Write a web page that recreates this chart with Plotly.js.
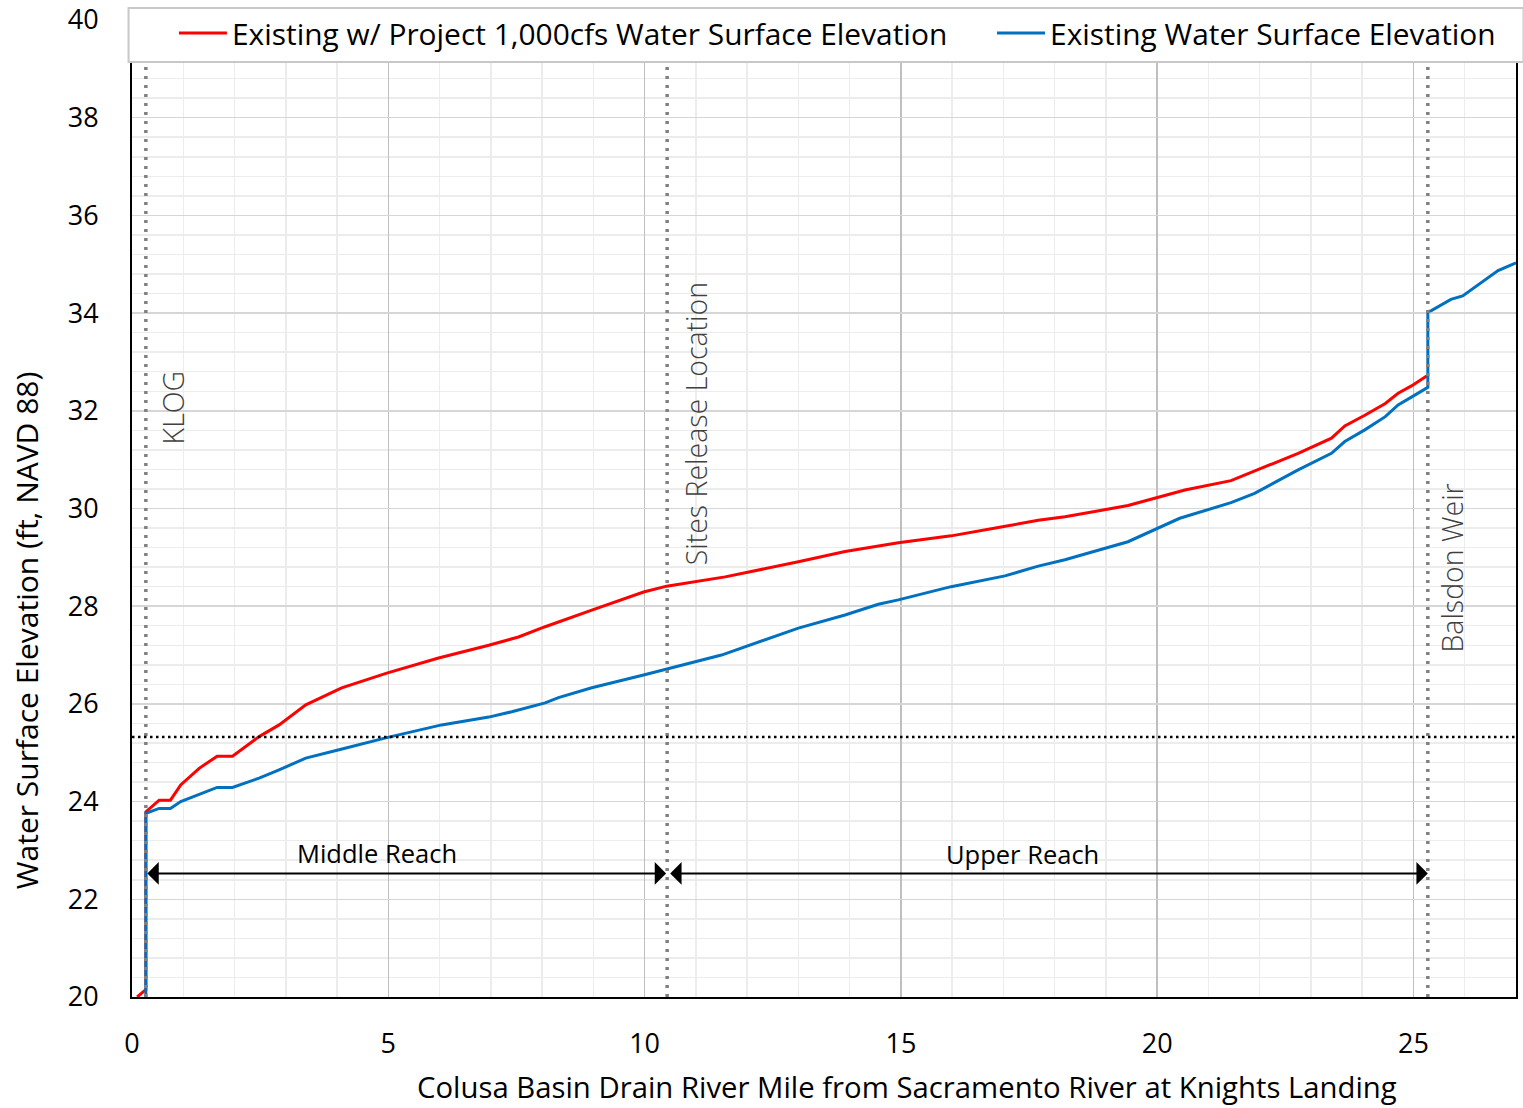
<!DOCTYPE html>
<html>
<head>
<meta charset="utf-8">
<script src="https://cdn.plot.ly/plotly-3.0.1.min.js"></script>
<style>html,body{margin:0;padding:0;background:#fff;}#chart{width:1523px;height:1108px;}</style>
</head>
<body>
<div id="chart"></div>
<script>
// ---- Data ----
const seriesNames = ["Existing w/ Project 1,000cfs Water Surface Elevation", "Existing Water Surface Elevation"];

const projectMile = [0.10, 0.27, 0.27, 0.53, 0.75, 0.95, 1.31, 1.66, 1.96, 2.48, 2.87, 3.39, 4.09, 4.97, 5.98, 6.96, 7.54, 8.06, 8.97, 9.98, 10.43, 10.66, 11.57, 13.0, 13.91, 14.95, 15.98, 16.9, 17.68, 18.2, 19.43, 19.95, 20.54, 21.44, 22.1, 22.75, 23.4, 23.66, 24.05, 24.45, 24.7, 24.96, 25.28];
const projectWSE  = [20.0, 20.15, 23.79, 24.03, 24.03, 24.34, 24.68, 24.93, 24.93, 25.33, 25.57, 25.98, 26.33, 26.63, 26.94, 27.2, 27.37, 27.58, 27.92, 28.29, 28.41, 28.45, 28.6, 28.91, 29.12, 29.3, 29.44, 29.61, 29.76, 29.83, 30.06, 30.21, 30.38, 30.57, 30.86, 31.13, 31.44, 31.69, 31.91, 32.15, 32.36, 32.51, 32.73];

const existingMile = [0.27, 0.27, 0.53, 0.75, 0.95, 1.31, 1.66, 1.96, 2.48, 2.87, 3.39, 4.04, 4.97, 6.04, 6.96, 7.41, 8.06, 8.32, 8.97, 9.98, 10.43, 11.5, 13.0, 13.91, 14.56, 14.95, 15.98, 17.03, 17.68, 18.2, 19.43, 19.95, 20.44, 21.44, 21.9, 22.75, 23.4, 23.66, 24.05, 24.45, 24.7, 24.96, 25.28, 25.28, 25.35, 25.73, 25.96, 26.65, 26.97, 27.0];
const existingWSE  = [20.0, 23.76, 23.86, 23.86, 24.0, 24.15, 24.29, 24.29, 24.48, 24.65, 24.89, 25.06, 25.31, 25.57, 25.73, 25.84, 26.02, 26.13, 26.33, 26.59, 26.71, 27.0, 27.55, 27.82, 28.04, 28.13, 28.4, 28.62, 28.82, 28.95, 29.32, 29.56, 29.8, 30.12, 30.31, 30.79, 31.13, 31.37, 31.61, 31.88, 32.12, 32.28, 32.48, 34.03, 34.05, 34.28, 34.35, 34.87, 35.02, 35.03];

// Reference locations (river mile) and labels
const markerNames = ["KLOG", "Sites Release Location", "Balsdon Weir"];
const markerMiles = [0.27, 10.44, 25.28];
const referenceWSE = 25.32;           // horizontal dotted line
const reachNames = ["Middle Reach", "Upper Reach"];
const reachStart = [0.27, 10.47];
const reachEnd   = [10.42, 25.28];
const reachArrowY = 22.53;

const xTitle = "Colusa Basin Drain River Mile from Sacramento River at Knights Landing";
const yTitle = "Water Surface Elevation (ft, NAVD 88)";

const FONT = "'Open Sans', 'DejaVu Sans', sans-serif";

const traces = [
  {x: projectMile, y: projectWSE, name: seriesNames[0], type: 'scatter', mode: 'lines',
   line: {color: '#ff0000', width: 3}, legend: 'legend'},
  {x: existingMile, y: existingWSE, name: seriesNames[1], type: 'scatter', mode: 'lines',
   line: {color: '#0070c0', width: 3}, legend: 'legend2'}
];

const shapes = [];
markerMiles.forEach(m => shapes.push({type: 'line', xref: 'x', yref: 'y', x0: m, x1: m, y0: 20, y1: 40,
  line: {color: '#808080', width: 3.5, dash: '3px,6px'}, layer: 'above'}));
shapes.push({type: 'line', xref: 'paper', yref: 'y', x0: 0, x1: 1, y0: referenceWSE, y1: referenceWSE,
  line: {color: '#000000', width: 2.5, dash: '2.5px,3.5px'}, layer: 'above'});
// legend box
shapes.push({type: 'rect', xref: 'paper', yref: 'paper', x0: -0.0025, x1: 1.0054, y0: 0.957, y1: 1.0123,
  fillcolor: '#ffffff', line: {color: '#c8c8c8', width: 2}, layer: 'above'});

const annotations = [];
const markerLabelPos = [[0.80, 32.07], [11.01, 31.73], [25.76, 28.78]];
markerNames.forEach((n, i) => annotations.push({x: markerLabelPos[i][0], y: markerLabelPos[i][1], xref: 'x', yref: 'y',
  text: n, showarrow: false, textangle: -90, font: {family: FONT, size: 28.5, color: '#404040', weight: 300}}));
reachNames.forEach((n, i) => {
  annotations.push({x: reachEnd[i], y: reachArrowY, ax: reachStart[i], ay: reachArrowY,
    xref: 'x', yref: 'y', axref: 'x', ayref: 'y', text: '', showarrow: true,
    arrowhead: 1, startarrowhead: 1, arrowside: 'end+start', arrowsize: 1.9, startarrowsize: 1.9,
    arrowwidth: 2, arrowcolor: '#000000', standoff: 0, startstandoff: 0});
});
const reachLabelPos = [[4.77, 22.95], [17.37, 22.93]];
reachNames.forEach((n, i) => annotations.push({x: reachLabelPos[i][0], y: reachLabelPos[i][1], xref: 'x', yref: 'y',
  text: n, showarrow: false, font: {family: FONT, size: 25.5, color: '#000000'}}));
// axis titles (placed off-centre as in the reference)
annotations.push({x: 0.56, y: -0.0921, xref: 'paper', yref: 'paper', xanchor: 'center', yanchor: 'middle',
  text: xTitle, showarrow: false, borderpad: 0, font: {family: FONT, size: 29.3, color: '#000000'}});
annotations.push({x: -0.0765, y: 0.3746, xref: 'paper', yref: 'paper', xanchor: 'center', yanchor: 'middle',
  text: yTitle, showarrow: false, borderpad: 0, textangle: -90, font: {family: FONT, size: 30, color: '#000000'}});

const legendCommon = {orientation: 'h', xanchor: 'left', y: 1.0133, yanchor: 'top',
  bgcolor: 'rgba(0,0,0,0)', borderwidth: 0, font: {family: FONT, size: 29.9, color: '#000000'},
  itemwidth: 48};

const layout = {
  width: 1523, height: 1108,
  margin: {l: 132, r: 7, t: 20, b: 111, pad: 0},
  paper_bgcolor: '#ffffff', plot_bgcolor: '#ffffff',
  font: {family: FONT, color: '#000000'},
  showlegend: true,
  legend: Object.assign({}, legendCommon, {x: 0.0303}),
  legend2: Object.assign({}, legendCommon, {x: 0.6214}),
  xaxis: {range: [0, 27], dtick: 5, tick0: 0, showgrid: true, gridcolor: '#bfbfbf', gridwidth: 1.5,
    minor: {dtick: 1, showgrid: true, gridcolor: '#ececec', gridwidth: 1.5},
    showline: true, linecolor: '#000000', linewidth: 2, mirror: true, zeroline: false,
    ticks: '', ticklabelstandoff: 22, tickfont: {family: FONT, size: 27, color: '#000000'}},
  yaxis: {range: [20, 40], dtick: 2, tick0: 20, showgrid: true, gridcolor: '#d6d6d6', gridwidth: 1.5,
    minor: {dtick: 0.4, showgrid: true, gridcolor: '#ececec', gridwidth: 1.5},
    showline: true, linecolor: '#000000', linewidth: 2, mirror: true, zeroline: false,
    ticks: '', ticklabelstandoff: 26, tickfont: {family: FONT, size: 27, color: '#000000'}},
  shapes: shapes,
  annotations: annotations
};

Plotly.newPlot('chart', traces, layout, {displayModeBar: false, staticPlot: true});
</script>
</body>
</html>
